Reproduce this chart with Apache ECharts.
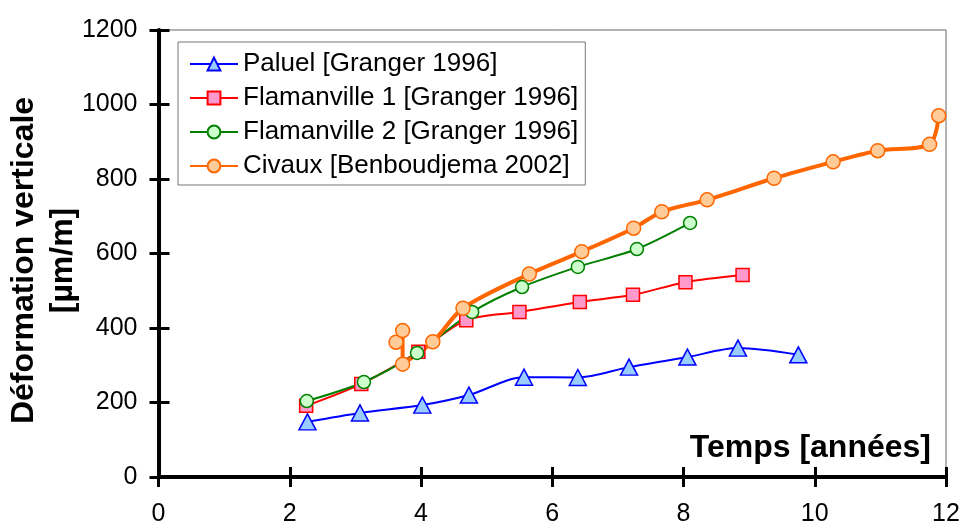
<!DOCTYPE html>
<html>
<head>
<meta charset="utf-8">
<script src="https://cdn.jsdelivr.net/npm/echarts@6/dist/echarts.min.js"></script>
<style>html,body{margin:0;padding:0;background:#fff;}#c{width:963px;height:527px;}</style>
</head>
<body>
<div id="c"></div>
<script>
// ---- data ----
const paluelX = [2.27, 3.07, 4.02, 4.73, 5.57, 6.39, 7.17, 8.06, 8.83, 9.75];
const paluelY = [148, 172, 193, 220, 268, 267, 295, 322, 346, 328];
const flam1X = [2.25, 3.09, 3.96, 4.69, 5.50, 6.42, 7.23, 8.03, 8.90];
const flam1Y = [191, 250, 336, 421, 443, 470, 489, 523, 542];
const flam2X = [2.26, 3.13, 3.94, 4.78, 5.54, 6.39, 7.29, 8.10];
const flam2Y = [204, 255, 333, 443, 510, 564, 612, 682];
const civauxX = [3.62, 3.72, 3.72, 4.18, 4.64, 5.65, 6.45, 7.24, 7.67, 8.36, 9.38, 10.28, 10.96, 11.75, 11.89];
const civauxY = [362, 393, 303, 363, 453, 545, 605, 668, 712, 744, 802, 846, 876, 893, 970];
const seriesNames = ['Paluel [Granger 1996]', 'Flamanville 1 [Granger 1996]', 'Flamanville 2 [Granger 1996]', 'Civaux [Benboudjema 2002]'];
const xTicks = {min: 0, max: 12, interval: 2};
const yTicks = {min: 0, max: 1200, interval: 200};
const xTitle = 'Temps [années]';
const yTitle = 'Déformation verticale\n[µm/m]';

const pair = (xs, ys) => xs.map((x, i) => [x, ys[i]]);
const FONT = '"Liberation Sans", Arial, sans-serif';
const plain = v => String(v);

const chart = echarts.init(document.getElementById('c'), null, {renderer: 'canvas'});
const baseAxis = {
  type: 'value', splitLine: {show: false}
};
chart.setOption({
  animation: false,
  backgroundColor: '#fff',
  grid: {left: 158.5, right: 17, top: 30, bottom: 50, show: true, borderColor: '#666', borderWidth: 1,
         containLabel: false, outerBoundsMode: 'none'},
  title: {
    text: xTitle, right: 27, top: 427,
    textStyle: {fontFamily: FONT, fontSize: 32, fontWeight: 'bold', color: '#000'}
  },
  legend: {
    orient: 'vertical', left: 178, top: 42,
    padding: [9, 7, 6, 11],
    itemWidth: 48, itemHeight: 16, itemGap: 8,
    borderColor: '#777', borderWidth: 1, backgroundColor: '#fff',
    textStyle: {fontFamily: FONT, fontSize: 26, color: '#000', lineHeight: 26},
    data: seriesNames
  },
  xAxis: [
    Object.assign({}, baseAxis, xTicks, {
      position: 'bottom',
      axisLine: {show: true, lineStyle: {color: '#000', width: 4}},
      axisTick: {show: true, inside: false, length: 10, lineStyle: {color: '#000', width: 3}},
      axisLabel: {fontFamily: FONT, fontSize: 25, color: '#000', margin: 25, formatter: plain}
    }),
    Object.assign({}, baseAxis, xTicks, {
      position: 'bottom',
      axisLine: {show: false},
      axisTick: {show: true, inside: true, length: 10, lineStyle: {color: '#000', width: 3}},
      axisLabel: {show: false}
    })
  ],
  yAxis: [
    Object.assign({}, baseAxis, yTicks, {
      position: 'left',
      name: yTitle, nameLocation: 'middle', nameRotate: 90, nameGap: 76, nameMoveOverlap: false,
      nameTextStyle: {fontFamily: FONT, fontSize: 32, fontWeight: 'bold', color: '#000', lineHeight: 39, padding: [0, 14, 0, 0]},
      axisLine: {show: true, lineStyle: {color: '#000', width: 4}},
      axisTick: {show: true, inside: false, length: 9, lineStyle: {color: '#000', width: 3}},
      axisLabel: {fontFamily: FONT, fontSize: 25, color: '#000', margin: 21, formatter: plain}
    }),
    Object.assign({}, baseAxis, yTicks, {
      position: 'left',
      axisLine: {show: false},
      axisTick: {show: true, inside: true, length: 11, lineStyle: {color: '#000', width: 3}},
      axisLabel: {show: false}
    })
  ],
  series: [
    {
      name: seriesNames[0], type: 'line', data: pair(paluelX, paluelY), smooth: 0.3,
      symbol: 'triangle', symbolSize: [17, 16],
      lineStyle: {color: '#0000FF', width: 2},
      itemStyle: {color: '#99CCFF', borderColor: '#0000FF', borderWidth: 1.5}
    },
    {
      name: seriesNames[1], type: 'line', data: pair(flam1X, flam1Y), smooth: 0.3,
      symbol: 'rect', symbolSize: 13,
      lineStyle: {color: '#FF0000', width: 2},
      itemStyle: {color: '#FF99CC', borderColor: '#FF0000', borderWidth: 1.5}
    },
    {
      name: seriesNames[2], type: 'line', data: pair(flam2X, flam2Y), smooth: 0.3,
      symbol: 'circle', symbolSize: 13,
      lineStyle: {color: '#008000', width: 2},
      itemStyle: {color: '#CCFFCC', borderColor: '#008000', borderWidth: 1.5}
    },
    {
      name: seriesNames[3], type: 'line', data: pair(civauxX, civauxY), smooth: 0.3,
      symbol: 'circle', symbolSize: 14,
      lineStyle: {color: '#FF6600', width: 4},
      itemStyle: {color: '#FFCC99', borderColor: '#FF6600', borderWidth: 1.5}
    }
  ]
});
</script>
</body>
</html>
